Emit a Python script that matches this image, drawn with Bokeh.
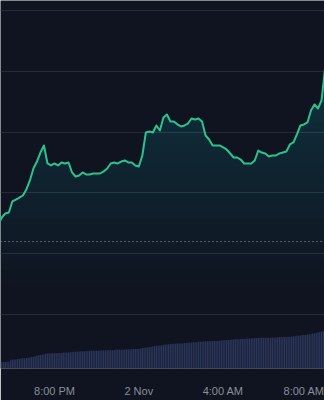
import numpy as np
import pandas as pd
from bokeh.plotting import figure
from bokeh.models import Range1d, FixedTicker, CustomJSTickFormatter, Span, ColumnDataSource
from bokeh.embed import file_html
from bokeh.resources import INLINE

# ---------------- data ----------------
price_start = "2023-11-01 17:20"
price_step = "10min"
price = [
    114.80, 115.95, 116.61, 116.78, 118.59, 118.91, 119.24, 119.57, 120.56, 122.04,
    124.01, 125.16, 126.64, 127.80, 124.84, 124.51, 124.84, 124.51, 125.00, 124.84,
    125.00, 123.36, 122.70, 122.86, 123.36, 123.03, 123.03, 123.19, 123.19, 123.19,
    123.52, 124.01, 124.84, 125.00, 124.84, 125.16, 125.33, 125.00, 125.00, 124.51,
    124.34, 126.15, 129.93, 130.10, 129.93, 131.09, 130.26, 132.40, 132.89, 131.74,
    131.74, 131.25, 130.92, 131.09, 131.41, 132.24, 132.07, 132.24, 131.74, 129.44,
    128.78, 127.80, 127.80, 127.80, 127.47, 127.14, 126.48, 125.82, 125.82, 125.49,
    124.84, 124.84, 124.84, 125.33, 126.97, 126.64, 126.48, 125.99, 126.15, 126.15,
    126.48, 126.64, 126.81, 127.96, 128.29, 129.61, 131.09, 131.25, 131.58, 133.55,
    134.54, 133.88, 135.20, 140.46,
]

volume_start = "2023-11-01 17:25"
volume_step = "5min"
volume = [
    163, 164, 165, 165, 166, 167, 208, 222, 225, 228,
    236, 240, 250, 256, 259, 264, 266, 275, 288, 292,
    308, 325, 333, 340, 350, 358, 368, 375, 378, 379,
    380, 381, 382, 386, 388, 390, 397, 399, 400, 402,
    404, 416, 418, 420, 422, 424, 430, 432, 433, 434,
    436, 442, 443, 444, 445, 445, 446, 447, 448, 449,
    450, 455, 457, 458, 459, 460, 467, 468, 469, 470,
    471, 472, 473, 474, 481, 483, 485, 488, 490, 492,
    500, 511, 515, 523, 527, 538, 542, 556, 560, 568,
    571, 574, 581, 585, 598, 601, 604, 612, 614, 616,
    618, 622, 624, 626, 628, 637, 639, 641, 643, 652,
    654, 656, 658, 667, 669, 671, 673, 680, 682, 684,
    686, 688, 689, 690, 691, 693, 703, 705, 707, 709,
    711, 713, 726, 728, 730, 732, 734, 736, 741, 743,
    745, 747, 749, 751, 758, 761, 763, 765, 767, 769,
    769, 770, 770, 771, 771, 772, 772, 773, 784, 786,
    787, 788, 789, 790, 791, 793, 802, 805, 808, 816,
    820, 824, 831, 835, 843, 847, 857, 862, 872, 877,
    892, 898, 912, 918, 935, 942,
]

prev_close = 112.0
price_grid = [100, 110, 120, 130, 140, 150]
tick_times = ["2023-11-01 20:00", "2023-11-02 00:00", "2023-11-02 04:00", "2023-11-02 08:00"]
tick_labels = ["8:00 PM", "2 Nov", "4:00 AM", "8:00 AM"]
x_start = "2023-11-01 17:26:18"
x_end = "2023-11-02 08:48:30"

# ---------------- style ----------------
BG = "#0f1420"
GRID = "#262b38"
GREEN = "#2cc28e"
VOL = "#2b3559"
LABEL = "#8a8e99"

def ms(t):
    return pd.Timestamp(t).value / 1e6

pt = pd.date_range(price_start, periods=len(price), freq=price_step)
vt = pd.date_range(volume_start, periods=len(volume), freq=volume_step)
price_arr = np.array(price)

p = figure(width=324, height=400, x_axis_type="datetime", y_axis_location=None,
           output_backend="svg", toolbar_location=None,
           x_range=Range1d(ms(x_start), ms(x_end)),
           y_range=Range1d(91.12, 151.64),
           background_fill_color=BG, border_fill_color=BG, outline_line_color=None,
           min_border_left=0, min_border_right=0, min_border_top=0, min_border_bottom=32)

p.extra_y_ranges = {"vol": Range1d(0, 9200)}

p.ygrid.ticker = FixedTicker(ticks=price_grid)
p.ygrid.grid_line_color = GRID
p.ygrid.grid_line_width = 1
p.xgrid.grid_line_color = None

# volume bars
vsrc = ColumnDataSource(dict(t=vt, v=volume))
p.vbar(x="t", top="v", bottom=0, width=5 * 60 * 1000 * 0.78, source=vsrc,
       fill_color=VOL, line_color=None, y_range_name="vol")

# gradient area under price line (stacked translucent bands)
lo, hi = 104.9, 140.1
K = 30
for lvl in np.linspace(lo, hi, K):
    p.varea(x=pt, y1=np.minimum(lvl, price_arr), y2=price_arr,
            fill_color=GREEN, fill_alpha=0.013)

# previous close dotted line
p.add_layout(Span(location=prev_close, dimension="width", line_color="#b4b8c0",
                  line_dash="1 3", line_width=1, line_alpha=0.85))

# price line
p.line(x=pt, y=price_arr, line_color=GREEN, line_width=2, line_join="round")

ax = p.xaxis[0]
tick_ms = [ms(t) for t in tick_times]
ax.ticker = FixedTicker(ticks=tick_ms)
ax.formatter = CustomJSTickFormatter(args=dict(tvals=tick_ms, tlabels=tick_labels), code="""
    for (let j = 0; j < tvals.length; j++) {
        if (Math.abs(tvals[j] - tick) < 1000) { return tlabels[j]; }
    }
    return "";
""")
ax.axis_line_color = None
ax.major_tick_line_color = None
ax.minor_tick_line_color = None
ax.major_label_text_color = LABEL
ax.major_label_text_font = "Liberation Sans"
ax.major_label_text_font_size = "11px"
ax.major_label_standoff = 10

open("out.html", "w").write(file_html(p, INLINE))
